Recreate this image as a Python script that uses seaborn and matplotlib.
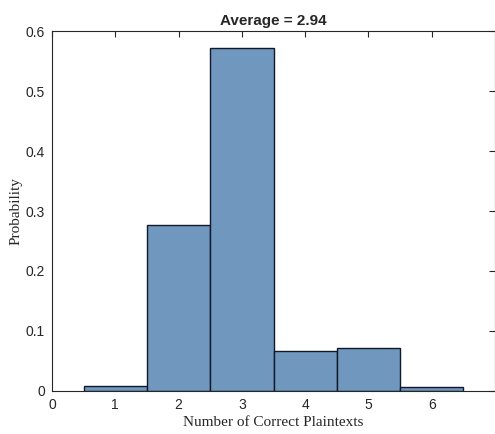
import matplotlib
matplotlib.use("Agg")
import matplotlib.pyplot as plt
import seaborn as sns
import pandas as pd

# values
counts = [1, 2, 3, 4, 5, 6]
probabilities = [0.009, 0.276, 0.571, 0.066, 0.072, 0.007]
x_ticks = [0, 1, 2, 3, 4, 5, 6]
y_ticks = [0, 0.1, 0.2, 0.3, 0.4, 0.5, 0.6]
average = 2.94

sns.set_style("white")
plt.rcParams['font.family'] = ['Liberation Sans', 'DejaVu Sans']

df = pd.DataFrame({"n": counts, "p": probabilities})

fig = plt.figure(figsize=(4.95, 4.34), dpi=100)
ax = fig.add_axes([52 / 495, 1 - 391 / 434, 1 - 52 / 495, (391 - 31) / 434])

sns.histplot(data=df, x="n", weights="p", discrete=True, stat="count",
             color="#7098be", alpha=1.0, edgecolor="#10182a", linewidth=1.0, ax=ax)

ax.set_xlim(0, 7)
ax.set_ylim(0, 0.6)
ax.set_xticks(x_ticks)
ax.set_xticklabels([str(t) for t in x_ticks])
ax.set_yticks(y_ticks)
ax.set_yticklabels(["0"] + [f"{t:.1f}" for t in y_ticks[1:]])
ax.tick_params(direction="in", top=True, right=True, length=4, width=0.8,
               labelsize=10, colors="#262626", pad=5)
for s in ax.spines.values():
    s.set_color("#262626")
    s.set_linewidth(0.8)

ax.set_title(f"Average = {average:.2f}", fontsize=11, fontweight="bold", pad=4)
ax.set_xlabel("Number of Correct Plaintexts", family=["Liberation Serif", "DejaVu Serif"],
              fontsize=11, labelpad=3)
ax.set_ylabel("Probability", family=["Liberation Serif", "DejaVu Serif"],
              fontsize=11, labelpad=2)

fig.savefig("out.png", dpi=100)
